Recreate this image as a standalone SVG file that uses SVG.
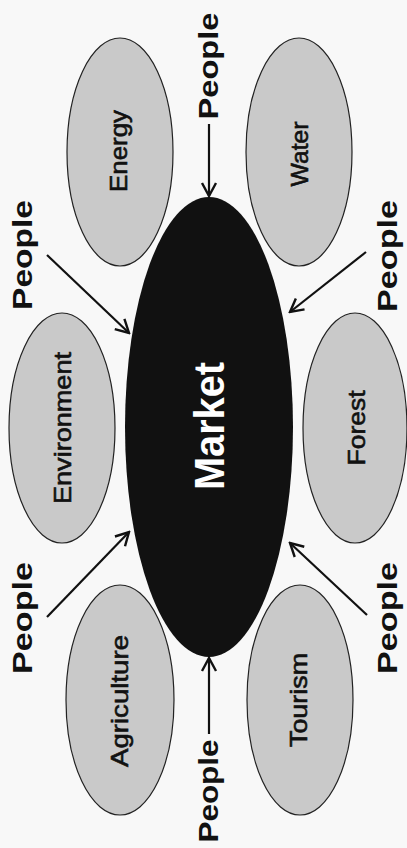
<svg xmlns="http://www.w3.org/2000/svg" width="407" height="848" viewBox="0 0 407 848">
<style>
.sector{fill:#c9c9c9;stroke:#222;stroke-width:1.2}
.lbl{font-family:"Liberation Sans",Arial,sans-serif;font-size:24px;fill:#111;stroke:#111;stroke-width:0.6;text-anchor:middle}
.ppl{font-family:"Liberation Sans",Arial,sans-serif;font-size:27px;font-weight:bold;fill:#111;text-anchor:middle}
.conn{stroke:#111;stroke-width:2.2;fill:none;marker-end:url(#arr)}
</style>
<defs>
<marker id="arr" markerUnits="userSpaceOnUse" markerWidth="18" markerHeight="18" viewBox="0 0 18 18" refX="16" refY="9" orient="auto">
<path d="M3,2 L16,9 L3,16" fill="none" stroke="#111" stroke-width="2.4"/>
</marker>
</defs>
<rect width="407" height="848" fill="#f8f8f8"/>
<g id="market">
<ellipse cx="209" cy="427" rx="84" ry="230" fill="#111"/>
<text transform="translate(224,426) rotate(-90)" textLength="128" lengthAdjust="spacingAndGlyphs" style="font-family:'Liberation Sans',Arial,sans-serif;font-size:42px;font-weight:bold;fill:#fff;text-anchor:middle">Market</text>
</g>
<g id="energy">
<ellipse class="sector" cx="120" cy="152" rx="53" ry="114"/>
<text class="lbl" transform="translate(127,151) rotate(-90)" textLength="82" lengthAdjust="spacingAndGlyphs">Energy</text>
</g>
<g id="water">
<ellipse class="sector" cx="299" cy="152" rx="53" ry="114"/>
<text class="lbl" transform="translate(308,154) rotate(-90)" textLength="65" lengthAdjust="spacingAndGlyphs">Water</text>
</g>
<g id="environment">
<ellipse class="sector" cx="62" cy="428" rx="53" ry="115"/>
<text class="lbl" transform="translate(71,428) rotate(-90)" textLength="152" lengthAdjust="spacingAndGlyphs">Environment</text>
</g>
<g id="forest">
<ellipse class="sector" cx="355" cy="428" rx="52" ry="115"/>
<text class="lbl" transform="translate(365,428) rotate(-90)" textLength="75" lengthAdjust="spacingAndGlyphs">Forest</text>
</g>
<g id="agriculture">
<ellipse class="sector" cx="120" cy="700" rx="54" ry="115"/>
<text class="lbl" transform="translate(128,701) rotate(-90)" textLength="132" lengthAdjust="spacingAndGlyphs">Agriculture</text>
</g>
<g id="tourism">
<ellipse class="sector" cx="300" cy="700" rx="53" ry="115"/>
<text class="lbl" transform="translate(307,700) rotate(-90)" textLength="94" lengthAdjust="spacingAndGlyphs">Tourism</text>
</g>
<g id="people-top"><text class="ppl" transform="translate(218,66) rotate(-90)" textLength="107" lengthAdjust="spacingAndGlyphs">People</text></g>
<g id="people-bottom"><text class="ppl" transform="translate(218,791) rotate(-90)" textLength="103" lengthAdjust="spacingAndGlyphs">People</text></g>
<g id="people-upper-left"><text class="ppl" transform="translate(32,255) rotate(-90)" textLength="110" lengthAdjust="spacingAndGlyphs">People</text></g>
<g id="people-lower-left"><text class="ppl" transform="translate(32,618) rotate(-90)" textLength="112" lengthAdjust="spacingAndGlyphs">People</text></g>
<g id="people-upper-right"><text class="ppl" transform="translate(397,256) rotate(-90)" textLength="112" lengthAdjust="spacingAndGlyphs">People</text></g>
<g id="people-lower-right"><text class="ppl" transform="translate(397,618) rotate(-90)" textLength="112" lengthAdjust="spacingAndGlyphs">People</text></g>
<g id="connectors">
<line class="conn" x1="209" y1="124" x2="209" y2="196"/>
<line class="conn" x1="209" y1="734" x2="209" y2="658"/>
<line class="conn" x1="47" y1="255" x2="129" y2="333"/>
<line class="conn" x1="366" y1="252" x2="290" y2="312"/>
<line class="conn" x1="47" y1="617" x2="129" y2="532"/>
<line class="conn" x1="367" y1="615" x2="290" y2="543"/>
</g>
</svg>
